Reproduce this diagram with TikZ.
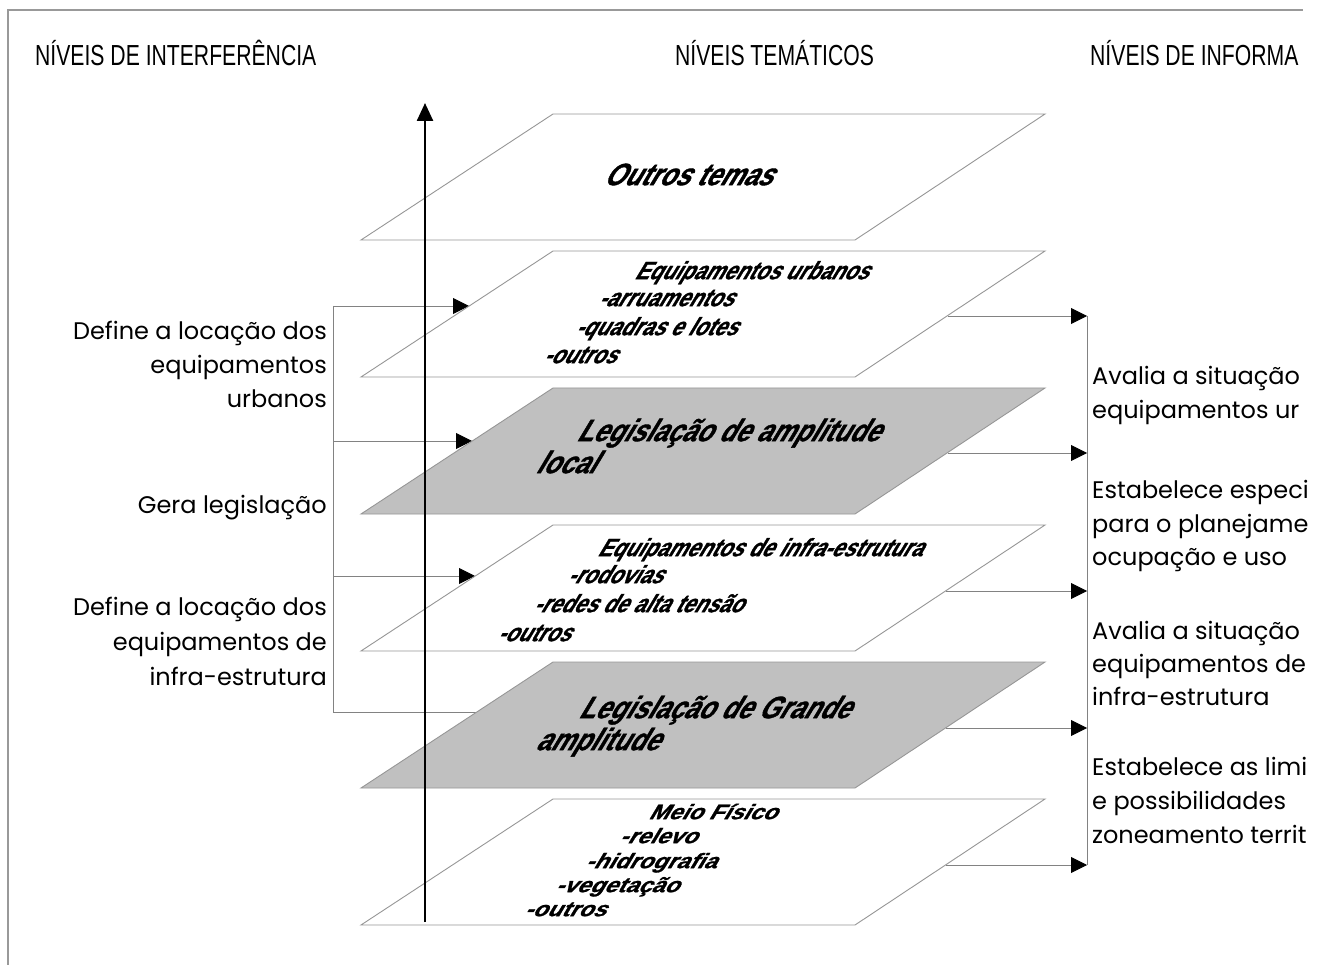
\documentclass[tikz,border=0pt]{standalone}
\usepackage{fontspec}
\usetikzlibrary{arrows.meta}
\newfontfamily\gothic{Poppins}
\newfontfamily\hdr[FakeStretch=0.73]{Liberation Sans}
\newfontfamily\slnt[FakeSlant=0.6,FakeStretch=0.84,FakeBold=1.2]{Liberation Sans}
\newfontfamily\slntw[FakeSlant=0.6,FakeStretch=1.12,FakeBold=1.2]{Liberation Sans}
\definecolor{planegray}{RGB}{192,192,192}
\definecolor{edgegray}{RGB}{150,150,150}
\definecolor{conngray}{RGB}{130,130,130}
\begin{document}
\begin{tikzpicture}[x=1pt,y=-1pt,
  edge/.style={draw=edgegray, line width=0.9pt},
  conn/.style={draw=conngray, line width=0.9pt},
  tip/.style={-{Triangle[length=16pt,width=16pt,black]}},
  hd/.style={font=\hdr\fontsize{29}{29}\selectfont, anchor=mid west, inner sep=0, yshift=-7pt},
  lt/.style={font=\gothic\fontsize{24}{24}\selectfont, anchor=mid east, inner sep=0, yshift=-6pt},
  rt/.style={font=\gothic\fontsize{24}{24}\selectfont, anchor=mid west, inner sep=0, yshift=-6pt},
  big/.style={font=\slnt\bfseries\fontsize{31}{31}\selectfont, anchor=mid west, inner sep=0, yshift=-7pt},
  sm/.style={font=\slnt\bfseries\fontsize{25}{25}\selectfont, anchor=mid west, inner sep=0, yshift=-6pt},
  smb/.style={font=\slntw\bfseries\fontsize{21}{21}\selectfont, anchor=mid west, inner sep=0, yshift=-5pt}]
\useasboundingbox (0,0) rectangle (1320,965);
% frame
\draw[black!40, line width=1.5pt] (8,965) -- (8,10) -- (1303,10);
% headers
\node[hd] (h1) at (35,56) {NÍVEIS DE INTERFERÊNCIA};
\node[hd] (h2) at (675,56) {NÍVEIS TEMÁTICOS};
\node[hd] (h3) at (1090,56) {NÍVEIS DE INFORMA};
% left bracket
\coordinate (bt) at (333,306);
\coordinate (b2) at (333,441);
\coordinate (b3) at (333,576);
\coordinate (bb) at (333,712);
\coordinate (e2) at (469,306);
\coordinate (e3) at (472,441);
\coordinate (e4) at (475,576);
\coordinate (e5) at (477,712);
\draw[conn] (bt) -- (bb);
\draw[conn,tip] (bt) -- (e2);
\draw[conn,tip] (b2) -- (e3);
\draw[conn,tip] (b3) -- (e4);
\draw[conn] (bb) -- (e5);
% planes
\foreach \t/\f in {114/white,251/white,388/planegray,525/white,662/planegray,799/white}{
  \draw[edge, fill=\f] (553,\t) -- (1045,\t) -- (855,\t+126) -- (361,\t+126) -- cycle;
}
% vertical arrow
\coordinate (va) at (425,922);
\coordinate (vb) at (425,103);
\draw[line width=2.5pt, -{Triangle[length=18pt,width=16pt]}] (va) -- (vb);
% right connectors
\coordinate (rt) at (1087,316);
\coordinate (rb) at (1087,865);
\draw[conn] (rt) -- (rb);
\coordinate (p2) at (948,316);
\coordinate (p3) at (948,453);
\coordinate (p4) at (946,591);
\coordinate (p5) at (946,728);
\coordinate (p6) at (946,865);
\coordinate (r2) at (1087,316);
\coordinate (r3) at (1087,453);
\coordinate (r4) at (1087,591);
\coordinate (r5) at (1087,728);
\coordinate (r6) at (1087,865);
\draw[conn,tip] (p2) -- (r2);
\draw[conn,tip] (p3) -- (r3);
\draw[conn,tip] (p4) -- (r4);
\draw[conn,tip] (p5) -- (r5);
\draw[conn,tip] (p6) -- (r6);
% plane texts
\node[big] (t1) at (603,176) {Outros temas};
\node[sm] (t2a) at (634,271) {Equipamentos urbanos};
\node[sm] (t2b) at (598,298) {-arruamentos};
\node[sm] (t2c) at (575,327) {-quadras e lotes};
\node[sm] (t2d) at (543,355) {-outros};
\node[big] (t3a) at (576,432) {Legislação de amplitude};
\node[big] (t3b) at (535,464) {local};
\node[sm] (t4a) at (597,548) {Equipamentos de infra-estrutura};
\node[sm] (t4b) at (567,575) {-rodovias};
\node[sm] (t4c) at (533,604) {-redes de alta tensão};
\node[sm] (t4d) at (497,633) {-outros};
\node[big] (t5a) at (578,709) {Legislação de Grande};
\node[big] (t5b) at (535,741) {amplitude};
\node[smb] (t6a) at (648,812) {Meio Físico};
\node[smb] (t6b) at (619,836) {-relevo};
\node[smb] (t6c) at (585,861) {-hidrografia};
\node[smb] (t6d) at (555,885) {-vegetação};
\node[smb] (t6e) at (524,909) {-outros};
% left texts
\node[lt] (l1a) at (327,331) {Define a locação dos};
\node[lt] (l1b) at (327,365) {equipamentos};
\node[lt] (l1c) at (327,399) {urbanos};
\node[lt] (l2) at (327,505) {Gera legislação};
\node[lt] (l3a) at (327,607) {Define a locação dos};
\node[lt] (l3b) at (327,642) {equipamentos de};
\node[lt] (l3c) at (327,677) {infra-estrutura};
% right texts (cut at the picture's right edge, as in the reference)
\node[rt] (q1a) at (1092,376) {Avalia a situação};
\node[rt] (q1b) at (1092,410) {equipamentos ur};
\node[rt] (q2a) at (1092,490) {Estabelece especi};
\node[rt] (q2b) at (1092,524) {para o planejame};
\node[rt] (q2c) at (1092,557) {ocupação e uso};
\node[rt] (q3a) at (1092,631) {Avalia a situação};
\node[rt] (q3b) at (1092,664) {equipamentos de};
\node[rt] (q3c) at (1092,697) {infra-estrutura};
\node[rt] (q4a) at (1092,767) {Estabelece as limi};
\node[rt] (q4b) at (1092,801) {e possibilidades};
\node[rt] (q4c) at (1092,835) {zoneamento territ};
\end{tikzpicture}
\end{document}
